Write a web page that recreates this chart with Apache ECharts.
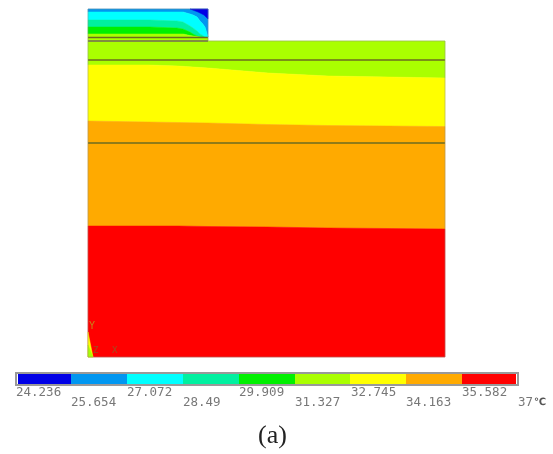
<!DOCTYPE html>
<html><head><meta charset="utf-8">
<style>html,body{margin:0;padding:0;background:#fff}#c{width:553px;height:454px}</style>
<script src="https://cdn.jsdelivr.net/npm/echarts@6/dist/echarts.min.js"></script></head>
<body><div id="c"></div>
<script>
const legendLabels=['24.236','25.654','27.072','28.49','29.909','31.327','32.745','34.163','35.582','37'];
const legendColors=['#0000e6','#0096f0','#00ffff','#00f0a0','#00f000','#aaff00','#ffff00','#ffaa00','#ff0000'];
const legendEdges=[18,71,127,183,239,295,350,406,462,516];
const labelX=[16,71,127,183,239,295,351,406,462,518];
const bodyX=[88,148,178,208,268,328,388,445];
const bodyTop=[41,41,41,41,41,41,41,41];
const bodyYellow=[65,65,66,68,73,76,77,78];
const bodyOrange=[121,122,122.5,123,124.5,125.5,126,126.5];
const bodyRed=[226,226,226,226.5,227,228,228.5,229];
const bodyBottom=[357,357,357,357,357,357,357,357];
const blockX=[88,150,177,183,190,193,197,200,202,205,208];
const blockTop=[9,9,9,9,9,9,9,9,9,9,9];
const blockCyan=[12,12,12,12,14,15,17,21,23,27,37];
const blockTeal=[20,20,21,22,26,28,31,34,35,37,37.5];
const blockGreen=[27,27,28,29,32,34,36,37,37,37.5,37.5];
const blockLime=[34,34,34,34,35.5,36,36.5,37,37.5,37.5,37.5];
const blockBottom=[41,41,41,41,41,41,41,41,41,41,41];
const cornerX=[190,198,204,208];
const cornerTop=[9,9,9,9];
const cornerBottom=[9,12,15,19];
const wedgeX=[88,93];
const wedgeTop=[332,357];
const wedgeMid=[345,357];
const wedgeBottom=[357,357];
const hLines=[[88,208,37.5],[88,208,41],[88,445,60],[88,445,143]];

function band(xs,up,lo,color){return {x:xs,up,lo,color};}
const bands=[
 band(bodyX,bodyTop,bodyYellow,legendColors[5]),
 band(bodyX,bodyYellow,bodyOrange,legendColors[6]),
 band(bodyX,bodyOrange,bodyRed,legendColors[7]),
 band(bodyX,bodyRed,bodyBottom,legendColors[8]),
 band(blockX,blockTop,blockCyan,legendColors[1]),
 band(blockX,blockCyan,blockTeal,legendColors[2]),
 band(blockX,blockTeal,blockGreen,legendColors[3]),
 band(blockX,blockGreen,blockLime,legendColors[4]),
 band(blockX,blockLime,blockBottom,legendColors[5]),
 band(cornerX,cornerTop,cornerBottom,legendColors[0]),
 band(wedgeX,wedgeTop,wedgeBottom,legendColors[6]),
 band(wedgeX,wedgeMid,wedgeBottom,legendColors[5])
];
function poly(b,api){
 const pts=[];
 b.x.forEach((x,i)=>pts.push(api.coord([x,b.up[i]])));
 for(let i=b.x.length-1;i>=0;i--)pts.push(api.coord([b.x[i],b.lo[i]]));
 return {type:'polygon',shape:{points:pts},style:{fill:b.color,stroke:b.color,lineWidth:0.5}};
}
const txt='#555555';
const labelData=legendLabels.map((l,i)=>({value:[labelX[i],i%2?403:392.5],l:l}));
const chart=echarts.init(document.getElementById('c'),null,{renderer:'canvas'});
chart.setOption({
 animation:false,
 grid:{left:0,right:0,top:0,bottom:0},
 xAxis:{type:'value',min:0,max:553,show:false},
 yAxis:{type:'value',min:0,max:454,inverse:true,show:false},
 series:[
  {type:'custom',silent:true,data:bands.map((b,i)=>[i]),renderItem:(p,api)=>poly(bands[p.dataIndex],api)},
  {type:'custom',silent:true,data:hLines,z:3,renderItem:(p,api)=>{
    const d=hLines[p.dataIndex];const a=api.coord([d[0],d[2]]),b=api.coord([d[1],d[2]]);
    return {type:'line',shape:{x1:a[0],y1:a[1],x2:b[0],y2:b[1]},style:{stroke:'#6b6b20',lineWidth:1.4}};}},
  {type:'custom',silent:true,data:[[88,41,445,357],[88,9,208,41]],z:3,renderItem:(p,api)=>{
    const v=[api.value(0),api.value(1),api.value(2),api.value(3)];
    const a=api.coord([v[0],v[1]]),b=api.coord([v[2],v[3]]);
    return {type:'rect',shape:{x:a[0],y:a[1],width:b[0]-a[0],height:b[1]-a[1]},style:{fill:'none',stroke:'#8a8a80',lineWidth:1,opacity:.45}};}},
  {type:'custom',silent:true,data:legendColors.map((c,i)=>[i]),z:4,renderItem:(p,api)=>{
    const i=p.dataIndex;const a=api.coord([legendEdges[i],374]),b=api.coord([legendEdges[i+1],384]);
    return {type:'rect',shape:{x:a[0],y:a[1],width:b[0]-a[0],height:b[1]-a[1]},style:{fill:legendColors[i]}};}},
  {type:'custom',silent:true,data:[[16,373,518,385]],z:5,renderItem:(p,api)=>{
    const a=api.coord([api.value(0),api.value(1)]),b=api.coord([api.value(2),api.value(3)]);
    return {type:'rect',shape:{x:a[0],y:a[1],width:b[0]-a[0],height:b[1]-a[1]},style:{fill:'none',stroke:'#999999',lineWidth:2}};}},
  {type:'scatter',symbolSize:0,z:6,silent:true,data:labelData,
   label:{show:true,position:'right',distance:0,formatter:p=>p.data.l,fontFamily:'DejaVu Sans Mono',fontSize:12.5,color:txt}}
 ],
 graphic:[
  {type:'text',z:100,left:534,top:397,style:{text:'℃',font:'bold 10px DejaVu Sans',fill:txt}},
  {type:'text',z:100,left:89,top:321,style:{text:'Y',font:'10px DejaVu Sans Mono',fill:'#c8801a'}},
  {type:'text',z:100,left:93,top:346,style:{text:'Z',font:'9px DejaVu Sans Mono',fill:'#a05020'}},
  {type:'text',z:100,left:112,top:346,style:{text:'X',font:'9px DejaVu Sans Mono',fill:'#a05020'}},
  {type:'text',z:100,left:258,top:423,style:{text:'(a)',font:'26px Liberation Serif',fill:'#222'}}
 ]
});
</script></body></html>
